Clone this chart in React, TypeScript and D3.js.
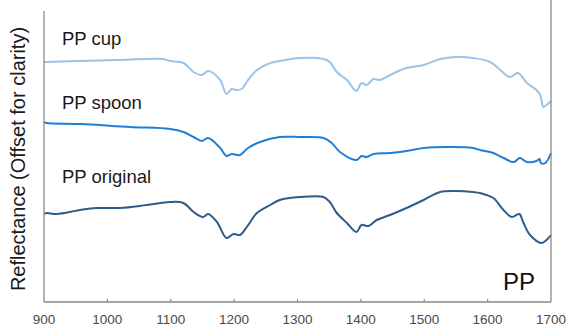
import React from "react";
import * as d3 from "d3";

// wavenumber (cm-1) and offset reflectance
const cupWn = [900, 904, 957, 1020, 1088, 1099, 1120, 1136, 1149, 1159, 1178, 1188, 1196, 1204, 1212, 1222, 1236, 1257, 1272, 1304, 1341, 1351, 1362, 1378, 1393, 1401, 1409, 1420, 1430, 1446, 1472, 1499, 1525, 1551, 1577, 1604, 1620, 1635, 1648, 1662, 1677, 1683, 1688, 1693, 1700];
const cupVals = [2.40, 2.40, 2.41, 2.42, 2.43, 2.41, 2.39, 2.30, 2.27, 2.31, 2.22, 2.08, 2.13, 2.12, 2.13, 2.22, 2.32, 2.39, 2.41, 2.44, 2.43, 2.40, 2.30, 2.22, 2.11, 2.19, 2.17, 2.23, 2.22, 2.27, 2.34, 2.37, 2.43, 2.45, 2.44, 2.40, 2.32, 2.25, 2.29, 2.19, 2.12, 2.07, 1.95, 1.97, 2.01];

const spoonWn = [900, 904, 957, 1036, 1099, 1120, 1136, 1149, 1159, 1178, 1188, 1196, 1209, 1222, 1241, 1272, 1304, 1341, 1354, 1367, 1393, 1401, 1409, 1420, 1446, 1472, 1499, 1541, 1577, 1588, 1609, 1625, 1641, 1651, 1662, 1677, 1682, 1684, 1691, 1700];
const spoonVals = [1.80, 1.79, 1.78, 1.75, 1.73, 1.70, 1.65, 1.61, 1.64, 1.54, 1.46, 1.48, 1.47, 1.54, 1.60, 1.65, 1.65, 1.64, 1.59, 1.50, 1.42, 1.46, 1.45, 1.48, 1.49, 1.51, 1.54, 1.55, 1.54, 1.52, 1.49, 1.44, 1.40, 1.44, 1.40, 1.41, 1.43, 1.39, 1.39, 1.49];

const origWn = [900, 904, 920, 957, 983, 1020, 1062, 1099, 1120, 1136, 1151, 1159, 1173, 1188, 1199, 1209, 1220, 1236, 1257, 1272, 1304, 1341, 1351, 1362, 1378, 1393, 1401, 1412, 1425, 1446, 1472, 1499, 1525, 1551, 1577, 1588, 1609, 1625, 1638, 1650, 1656, 1667, 1685, 1693, 1700];
const origVals = [0.88, 0.89, 0.88, 0.92, 0.94, 0.94, 0.97, 1.00, 0.99, 0.90, 0.85, 0.88, 0.80, 0.64, 0.68, 0.67, 0.75, 0.89, 0.97, 1.02, 1.05, 1.05, 1.00, 0.89, 0.79, 0.70, 0.77, 0.76, 0.82, 0.87, 0.94, 1.02, 1.10, 1.11, 1.10, 1.09, 1.04, 0.92, 0.85, 0.88, 0.80, 0.67, 0.59, 0.62, 0.67];

const seriesNames = ["PP cup", "PP spoon", "PP original"];
const xTicks = [900, 1000, 1100, 1200, 1300, 1400, 1500, 1600, 1700];

const W = 568;
const H = 329;
const margin = { left: 44, right: 17, top: 11, bottom: 27 };

export default function App() {
  const x = d3.scaleLinear().domain([900, 1700]).range([margin.left, W - margin.right]);
  const y = d3.scaleLinear().domain([0, 2.91]).range([H - margin.bottom, margin.top]);

  const line = d3
    .line<[number, number]>()
    .x((d) => x(d[0]))
    .y((d) => y(d[1]))
    .curve(d3.curveCatmullRom.alpha(0.5));

  const series = [
    { name: seriesNames[0], wn: cupWn, vals: cupVals, color: "#9dc3e8", labelY: 2.57 },
    { name: seriesNames[1], wn: spoonWn, vals: spoonVals, color: "#1e7fd3", labelY: 1.93 },
    { name: seriesNames[2], wn: origWn, vals: origVals, color: "#2f5d89", labelY: 1.19 },
  ];

  const axisColor = "#8a8a8a";
  const font = "'Liberation Sans', Arial, sans-serif";
  const x0 = x(900);
  const x1 = x(1700);
  const yb = y(0);
  const yt = margin.top;

  return (
    <svg
      width={W}
      height={H}
      style={{ position: "absolute", left: 0, top: 0, background: "#fff" }}
      fontFamily={font}
    >
      {series.map((s) => (
        <path
          key={s.name}
          d={line(s.wn.map((w, i) => [w, s.vals[i]] as [number, number])) || ""}
          fill="none"
          stroke={s.color}
          strokeWidth={2}
          strokeLinejoin="round"
        />
      ))}
      {series.map((s) => (
        <text key={s.name + "-lbl"} x={62} y={y(s.labelY)} fontSize={18.5} fill="#1a1a1a">
          {s.name}
        </text>
      ))}

      {/* frame: left, right, bottom */}
      <line x1={x0} x2={x0} y1={yt} y2={yb} stroke={axisColor} strokeWidth={1.3} />
      <line x1={x1} x2={x1} y1={0} y2={yb} stroke={axisColor} strokeWidth={1.3} />
      <line x1={x0} x2={x1} y1={yb} y2={yb} stroke={axisColor} strokeWidth={1.3} />

      {xTicks.map((t) => (
        <g key={t}>
          {t > 900 && t < 1700 && (
            <line x1={x(t)} x2={x(t)} y1={yb} y2={yb - 3} stroke={axisColor} strokeWidth={1.2} />
          )}
          <text x={x(t)} y={324} textAnchor="middle" fontSize={13.5} fill="#4a4a4a">
            {t}
          </text>
        </g>
      ))}

      <text
        transform={`translate(25, 159) rotate(-90)`}
        textAnchor="middle"
        fontSize={20}
        fill="#1a1a1a"
      >
        Reflectance (Offset for clarity)
      </text>

      <text x={503} y={290} fontSize={24} fill="#111">
        PP
      </text>
    </svg>
  );
}
